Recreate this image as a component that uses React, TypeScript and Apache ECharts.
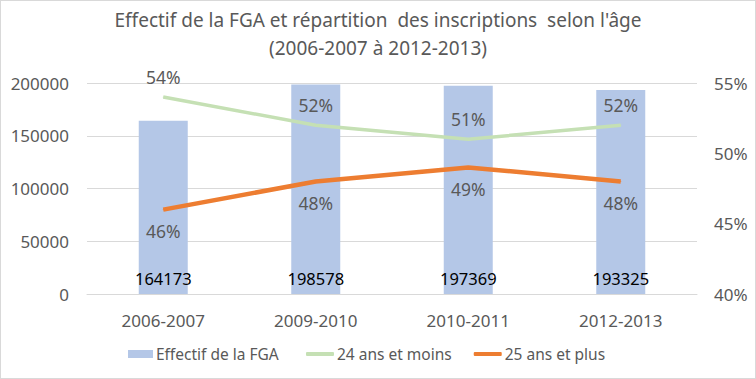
import React, { useEffect, useRef } from "react";
import * as echarts from "echarts";

const categories = ["2006-2007", "2009-2010", "2010-2011", "2012-2013"];
const effectif = [164173, 198578, 197369, 193325];
const moins24 = [54, 52, 51, 52];
const plus25 = [46, 48, 49, 48];
const titleLines = ["Effectif de la FGA et répartition  des inscriptions  selon l'âge", "(2006-2007 à 2012-2013)"];

const FONT = "'Noto Sans', sans-serif";
const GRAY = "#595959";

export default function App() {
  const ref = useRef<HTMLDivElement>(null);
  useEffect(() => {
    document.body.style.margin = "0";
    const chart = echarts.init(ref.current!, null, { renderer: "svg" });
    chart.setOption({
      animation: false,
      backgroundColor: "#ffffff",
      textStyle: { fontFamily: FONT },
      title: {
        text: titleLines.join("\n"),
        left: "center",
        top: 0,
        textStyle: { fontFamily: FONT, fontSize: 19, fontWeight: "normal", color: GRAY, lineHeight: 28 },
      },
      grid: { left: 86, right: 58, top: 82, bottom: 84 },
      legend: [
        {
          data: [{ name: "Effectif de la FGA", icon: "rect" }],
          left: 122,
          top: 340,
          itemWidth: 25,
          itemHeight: 8,
          itemGap: 24,
          textStyle: { fontFamily: FONT, fontSize: 15.5, color: GRAY, padding: [0, 0, 0, -2] },
        },
        {
          data: [
            { name: "24 ans et moins", icon: "roundRect" },
            { name: "25 ans et plus", icon: "roundRect" },
          ],
          left: 300,
          top: 340,
          itemWidth: 28,
          itemHeight: 4,
          itemGap: 22,
          textStyle: { fontFamily: FONT, fontSize: 15.5, color: GRAY, padding: [0, 0, 0, -2] },
        },
      ],
      xAxis: {
        type: "category",
        data: categories,
        axisTick: { show: false },
        axisLine: { lineStyle: { color: "#d9d9d9" } },
        axisLabel: { color: GRAY, fontSize: 17, margin: 18, fontFamily: FONT },
      },
      yAxis: [
        {
          type: "value",
          min: 0,
          max: 200000,
          interval: 50000,
          axisLabel: { color: GRAY, fontSize: 17, margin: 18, fontFamily: FONT, formatter: (v: number) => String(v) },
          splitLine: { lineStyle: { color: "#d9d9d9" } },
          axisLine: { show: false },
          axisTick: { show: false },
        },
        {
          type: "value",
          min: 40,
          max: 55,
          interval: 5,
          position: "right",
          axisLabel: { color: GRAY, fontSize: 17, margin: 17, formatter: "{value}%", fontFamily: FONT },
          splitLine: { show: false },
          axisLine: { show: false },
          axisTick: { show: false },
        },
      ],
      series: [
        {
          name: "Effectif de la FGA",
          type: "bar",
          data: effectif,
          barWidth: 49,
          itemStyle: { color: "#b4c7e7" },
          label: {
            show: true,
            position: "insideBottom",
            distance: 7,
            color: "#000000",
            fontSize: 16.5,
            fontFamily: FONT,
          },
          z: 1,
        },
        {
          name: "24 ans et moins",
          type: "line",
          yAxisIndex: 1,
          data: moins24,
          symbol: "circle",
          symbolSize: 1,
          itemStyle: { color: "#c5e0b4" },
          lineStyle: { color: "#c5e0b4", width: 3.5 },
          label: {
            show: true,
            position: "top",
            distance: 11,
            formatter: "{c}%",
            color: GRAY,
            fontSize: 17.5,
            fontFamily: FONT,
          },
          z: 3,
        },
        {
          name: "25 ans et plus",
          type: "line",
          yAxisIndex: 1,
          data: plus25,
          symbol: "circle",
          symbolSize: 1,
          itemStyle: { color: "#ed7d31" },
          lineStyle: { color: "#ed7d31", width: 4.5 },
          label: {
            show: true,
            position: "bottom",
            distance: 12,
            formatter: "{c}%",
            color: GRAY,
            fontSize: 17.5,
            fontFamily: FONT,
          },
          z: 4,
        },
      ],
    });
    return () => chart.dispose();
  }, []);
  return (
    <div
      ref={ref}
      style={{ width: 756, height: 379, border: "1px solid #d9d9d9", boxSizing: "border-box" }}
    />
  );
}
